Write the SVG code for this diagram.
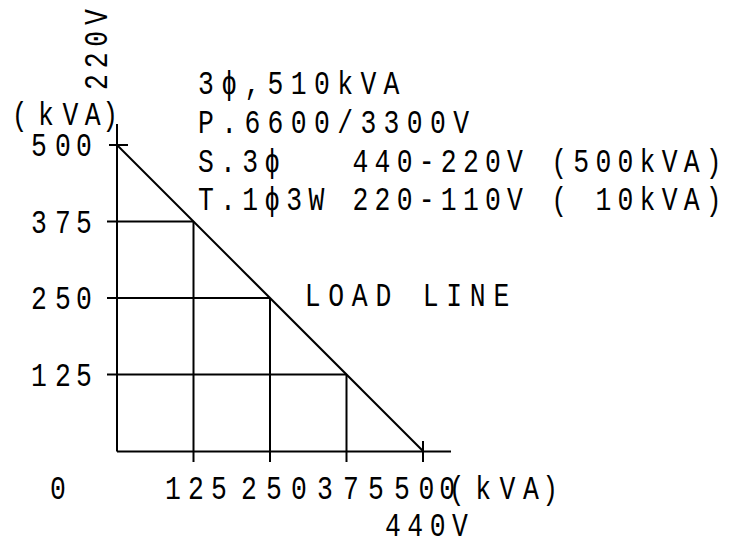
<svg xmlns="http://www.w3.org/2000/svg" width="729" height="545" viewBox="0 0 729 545">
  <style>
    text { font-family: "Liberation Mono", "DejaVu Sans Mono", monospace; font-size: 33px; fill: #000; white-space: pre; }
    .ln { stroke: #000; stroke-width: 2; fill: none; stroke-linecap: butt; }
    .wide { letter-spacing: 9.2px; }
    .mid { letter-spacing: 7.8px; }
  </style>
  <rect width="729" height="545" fill="#fff"/>

  <g id="connectors">
    <!-- axes -->
    <line class="ln" x1="117" y1="124" x2="117" y2="451.5"/>
    <line class="ln" x1="117" y1="451.5" x2="451" y2="451.5"/>
    <!-- 500 tick on y axis -->
    <line class="ln" x1="109" y1="145" x2="128" y2="145"/>
    <!-- horizontal grid lines -->
    <line class="ln" x1="107" y1="221.5" x2="193.5" y2="221.5"/>
    <line class="ln" x1="107" y1="298" x2="270" y2="298"/>
    <line class="ln" x1="107" y1="374.5" x2="346.5" y2="374.5"/>
    <!-- vertical grid lines -->
    <line class="ln" x1="193.5" y1="221.5" x2="193.5" y2="462"/>
    <line class="ln" x1="270" y1="298" x2="270" y2="462"/>
    <line class="ln" x1="346.5" y1="374.5" x2="346.5" y2="462"/>
    <line class="ln" x1="423" y1="441" x2="423" y2="462"/>
    <!-- load line -->
    <line class="ln" x1="117" y1="145" x2="423" y2="451"/>
  </g>

  <g id="rotated-label">
    <text transform="translate(107,88) rotate(-90) scale(0.8,1)" x="-2.5" y="0" style="letter-spacing:7.3px">220V</text>
  </g>

  <g id="y-axis-labels" transform="scale(0.8,1)">
    <text x="14.6 47.5 78.2 106 127.8" y="125">(kVA)</text>
    <text x="38.75 68.75 95" y="156.5">500</text>
    <text x="38.75 68.75 95" y="233">375</text>
    <text x="38.75 68.75 95" y="309.5">250</text>
    <text x="38.75 68.75 95" y="386">125</text>
  </g>

  <g id="x-axis-labels" transform="scale(0.8,1)">
    <text x="62.5" y="499">0</text>
    <text x="206.25 235 263.75" y="499">125</text>
    <text x="301.25 332.5 363.75" y="499">250</text>
    <text x="396.25 428.75 460" y="499">375</text>
    <text x="492.5 523 549" y="499">500</text>
    <text x="561 594 624.5 653.75 677.75" y="499">(kVA)</text>
    <text x="481.25" y="536" style="letter-spacing:8.1px">440V</text>
  </g>

  <g id="spec-text" transform="scale(0.8,1)">
    <text class="wide" x="247.5" y="94">3ϕ,510kVA</text>
    <text class="wide" x="247.5" y="133">P.6600/3300V</text>
    <text class="mid" x="247.5" y="172">S.3ϕ   440-220V (500kVA)</text>
    <text class="mid" x="247.5" y="210">T.1ϕ3W 220-110V ( 10kVA)</text>
  </g>

  <g id="load-line-label" transform="scale(0.8,1)">
    <text x="380.8" y="306" style="letter-spacing:9.7px">LOAD LINE</text>
  </g>
</svg>
